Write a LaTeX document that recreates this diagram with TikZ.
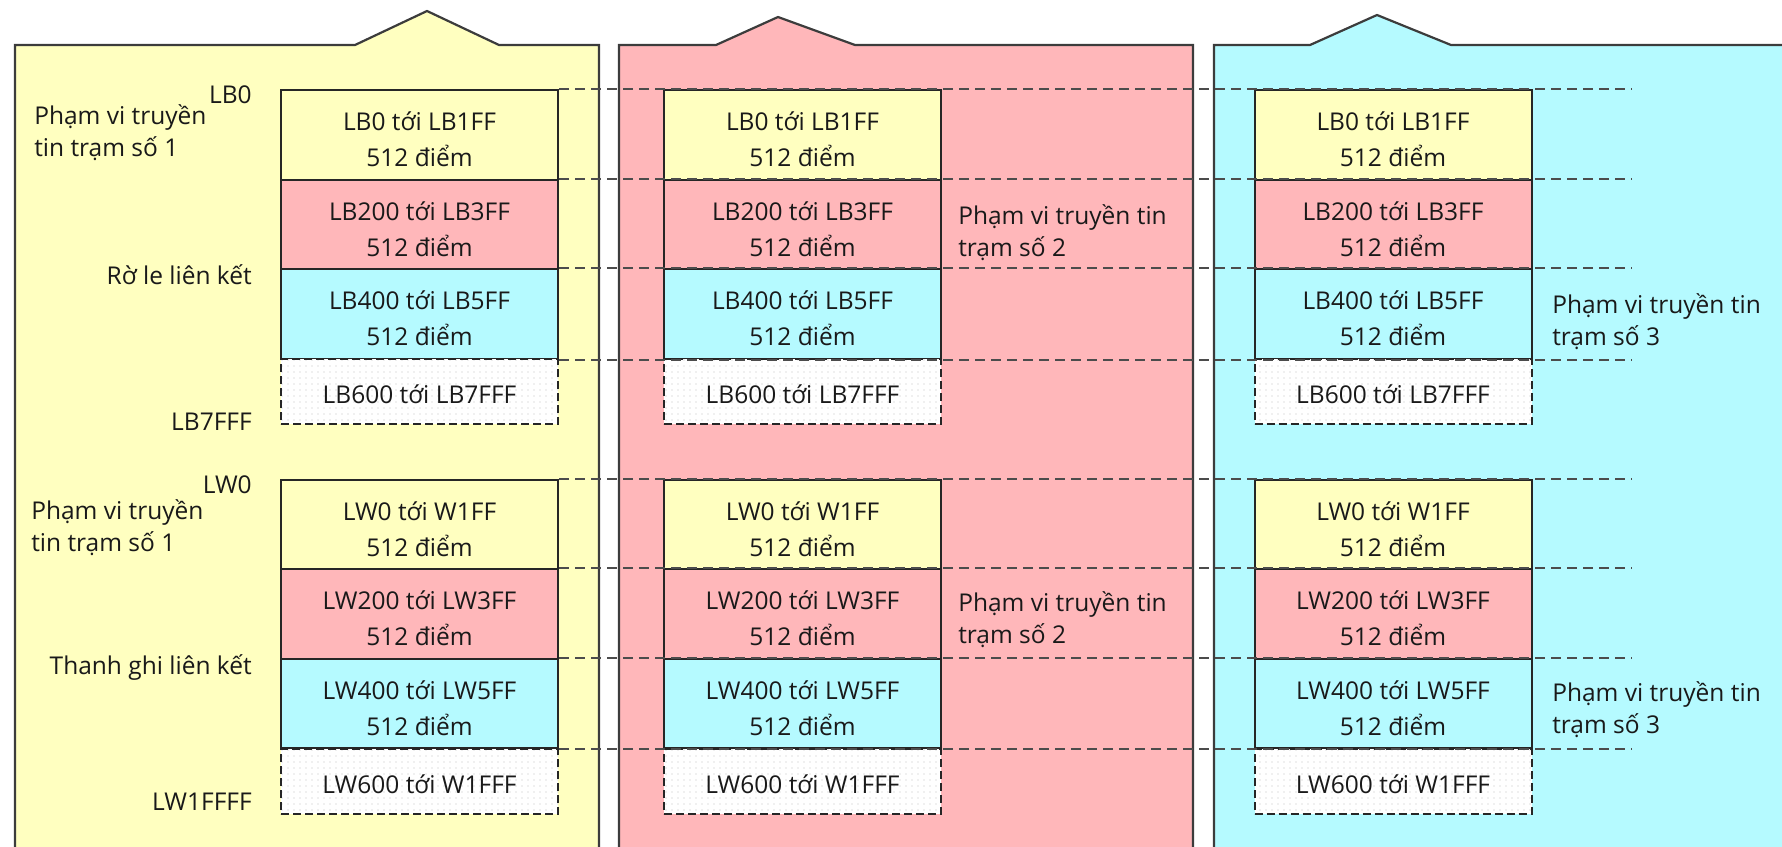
\documentclass[tikz,border=0pt]{standalone}
\usepackage{fontspec}
\setmainfont{Open Sans}
\usepackage{tikz}
\usetikzlibrary{patterns.meta}
\definecolor{ylw}{HTML}{FFFFC0}
\definecolor{pnk}{HTML}{FFB7BA}
\definecolor{cyn}{HTML}{B5FAFF}
\definecolor{edge}{HTML}{3C3C3C}

\begin{document}
\begin{tikzpicture}[x=1pt,y=-1pt,semithick,text=black!90,
                    font=\fontsize{24.5}{36}\selectfont]
  \tikzstyle{panel}=[draw=edge,line width=2.2pt,line join=miter]
  \tikzstyle{cell}=[rectangle,draw=black!85,line width=2pt,inner sep=0pt,
    minimum width=277pt,minimum height=89.5pt,align=center,
    text height=63pt,text depth=0pt]
  \tikzstyle{spare}=[cell,dash pattern=on 8pt off 4pt,minimum height=65pt,
    text height=24.5pt,preaction={fill=white},
    pattern={Dots[distance=6pt,radius=0.7pt]},pattern color=black!25]
  \tikzstyle{rowline}=[draw=black!70,line width=2pt,dash pattern=on 10pt off 6pt]
  \tikzstyle{tag}=[inner sep=0pt,anchor=east,text height=18pt,text depth=0pt]
  \tikzstyle{side}=[inner sep=0pt,anchor=west,align=left,
    font=\fontsize{24.5}{32}\selectfont,text height=50pt,text depth=0pt]
  \useasboundingbox (0,0) rectangle (1782,846);

  % the three station panels
  \path[panel,fill=ylw] (15,860) -- (15,45) -- (355,45) -- (427,11)
    -- (499,45) -- (599,45) -- (599,860);
  \path[panel,fill=pnk] (619,860) -- (619,45) -- (716,45) -- (778,17)
    -- (855,45) -- (1193,45) -- (1193,860);
  \path[panel,fill=cyn] (1214,860) -- (1214,45) -- (1310,45) -- (1377,15)
    -- (1451,45) -- (1800,45) -- (1800,860);

  % station 1
  \node[cell,fill=ylw] (11) at (419.5,135) {LB0 tới LB1FF\\512 điểm};
  \node[cell,fill=pnk] (12) at (419.5,224.5) {LB200 tới LB3FF\\512 điểm};
  \node[cell,fill=cyn] (13) at (419.5,314) {LB400 tới LB5FF\\512 điểm};
  \node[spare] (14) at (419.5,391.5) {LB600 tới LB7FFF};
  \node[cell,fill=ylw] (15) at (419.5,524.5) {LW0 tới W1FF\\512 điểm};
  \node[cell,fill=pnk] (16) at (419.5,614) {LW200 tới LW3FF\\512 điểm};
  \node[cell,fill=cyn] (17) at (419.5,703.5) {LW400 tới LW5FF\\512 điểm};
  \node[spare] (18) at (419.5,781.5) {LW600 tới W1FFF};

  % station 2
  \node[cell,fill=ylw] (21) at (802.5,135) {LB0 tới LB1FF\\512 điểm};
  \node[cell,fill=pnk] (22) at (802.5,224.5) {LB200 tới LB3FF\\512 điểm};
  \node[cell,fill=cyn] (23) at (802.5,314) {LB400 tới LB5FF\\512 điểm};
  \node[spare] (24) at (802.5,391.5) {LB600 tới LB7FFF};
  \node[cell,fill=ylw] (25) at (802.5,524.5) {LW0 tới W1FF\\512 điểm};
  \node[cell,fill=pnk] (26) at (802.5,614) {LW200 tới LW3FF\\512 điểm};
  \node[cell,fill=cyn] (27) at (802.5,703.5) {LW400 tới LW5FF\\512 điểm};
  \node[spare] (28) at (802.5,781.5) {LW600 tới W1FFF};

  % station 3
  \node[cell,fill=ylw] (31) at (1393,135) {LB0 tới LB1FF\\512 điểm};
  \node[cell,fill=pnk] (32) at (1393,224.5) {LB200 tới LB3FF\\512 điểm};
  \node[cell,fill=cyn] (33) at (1393,314) {LB400 tới LB5FF\\512 điểm};
  \node[spare] (34) at (1393,391.5) {LB600 tới LB7FFF};
  \node[cell,fill=ylw] (35) at (1393,524.5) {LW0 tới W1FF\\512 điểm};
  \node[cell,fill=pnk] (36) at (1393,614) {LW200 tới LW3FF\\512 điểm};
  \node[cell,fill=cyn] (37) at (1393,703.5) {LW400 tới LW5FF\\512 điểm};
  \node[spare] (38) at (1393,781.5) {LW600 tới W1FFF};

  \coordinate (e) at (1632,0);
  \draw[rowline]
        (11.north east) -- (11.north east -| e)
        (12.north east) -- (12.north east -| e)
        (13.north east) -- (13.north east -| e)
        (13.south east) -- (13.south east -| e)
        (15.north east) -- (15.north east -| e)
        (16.north east) -- (16.north east -| e)
        (17.north east) -- (17.north east -| e)
        (17.south east) -- (17.south east -| e);

  % labels
  \node[side] (a1) at (34,131) {Phạm vi truyền\\tin trạm số 1};
  \node[tag] (a2) at (252,94) {LB0};
  \node[tag] (a3) at (252,275) {Rờ le liên kết};
  \node[tag] (a4) at (252,421) {LB7FFF};
  \node[side] (a5) at (31,526) {Phạm vi truyền\\tin trạm số 1};
  \node[tag] (a6) at (252,484) {LW0};
  \node[tag] (a7) at (252,665) {Thanh ghi liên kết};
  \node[tag] (a8) at (252,801) {LW1FFFF};
  \node[side] (b1) at (958,231) {Phạm vi truyền tin\\trạm số 2};
  \node[side] (b2) at (958,618) {Phạm vi truyền tin\\trạm số 2};
  \node[side] (c1) at (1552,320) {Phạm vi truyền tin\\trạm số 3};
  \node[side] (c2) at (1552,708) {Phạm vi truyền tin\\trạm số 3};
\end{tikzpicture}
\end{document}
